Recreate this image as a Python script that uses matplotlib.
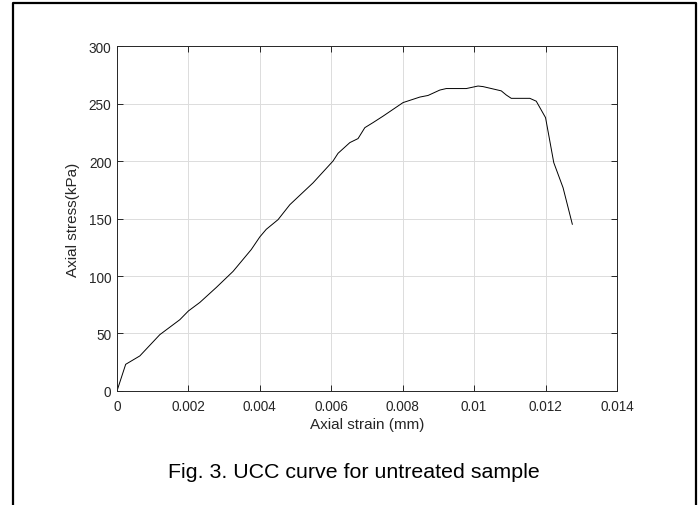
import matplotlib
matplotlib.use("Agg")
import matplotlib.pyplot as plt
from matplotlib.lines import Line2D
from matplotlib.ticker import FuncFormatter

plt.rcParams['font.family'] = ['Liberation Sans', 'DejaVu Sans']

# readings taken off the curve
strain = [0, 0.000244, 0.00064, 0.0012, 0.00176, 0.002, 0.00232, 0.00278,
          0.00325, 0.00376, 0.0040, 0.00418, 0.00451, 0.00484, 0.00549,
          0.00605, 0.00619, 0.00652, 0.00675, 0.00694, 0.00717, 0.00745,
          0.00801, 0.00848, 0.00871, 0.00904, 0.00922, 0.00978, 0.01011,
          0.01025, 0.01076, 0.0109, 0.01104, 0.01156, 0.01174, 0.0120,
          0.01223, 0.01249, 0.01275]
stress = [0, 23.2, 30.5, 49, 62, 69.6, 77, 90,
          104, 123, 134, 140.6, 149, 162, 181,
          200, 206.7, 216, 219.5, 229, 233.4, 239,
          250.8, 255.6, 257, 261.7, 263, 263, 265.2,
          264.7, 261, 257.4, 254.5, 254.5, 252, 237.7,
          198.6, 176.8, 145]

xticks = [0, 0.002, 0.004, 0.006, 0.008, 0.01, 0.012, 0.014]
yticks = [0, 50, 100, 150, 200, 250, 300]

dark = '#262626'

fig = plt.figure(figsize=(7, 5.06), dpi=100)
ax = fig.add_axes([0.1671, 0.2253, 0.7143, 0.6818])

ax.plot(strain, stress, color='black', linewidth=0.7)

ax.set_xlim(0, 0.014)
ax.set_ylim(0, 300)
ax.set_xticks(xticks)
ax.set_yticks(yticks)
ax.xaxis.set_major_formatter(FuncFormatter(lambda v, p: ('%g' % round(v, 4))))
ax.grid(True, color='#dcdcdc', linewidth=0.7)
ax.set_axisbelow(True)
ax.tick_params(direction='in', length=4, width=0.7, colors=dark,
               labelsize=9.8, top=True, right=True)
ax.tick_params(axis='x', pad=6)
ax.tick_params(axis='y', pad=4)
for s in ax.spines.values():
    s.set_color(dark)
    s.set_linewidth(0.7)

ax.set_xlabel('Axial strain (mm)', fontsize=11, color=dark, labelpad=3)
ax.set_ylabel('Axial stress(kPa)', fontsize=11, color=dark, labelpad=6)

fig.text(0.506, 0.0553, 'Fig. 3. UCC curve for untreated sample',
         fontsize=15.4, ha='center', va='baseline', color='black')

# frame around the figure (open at the bottom)
fig.add_artist(Line2D([0.0186, 0.0186, 0.9936, 0.9936],
                      [-0.05, 0.9921, 0.9921, -0.05],
                      transform=fig.transFigure, color='black', linewidth=1.6))

fig.savefig('out.png', dpi=100)
